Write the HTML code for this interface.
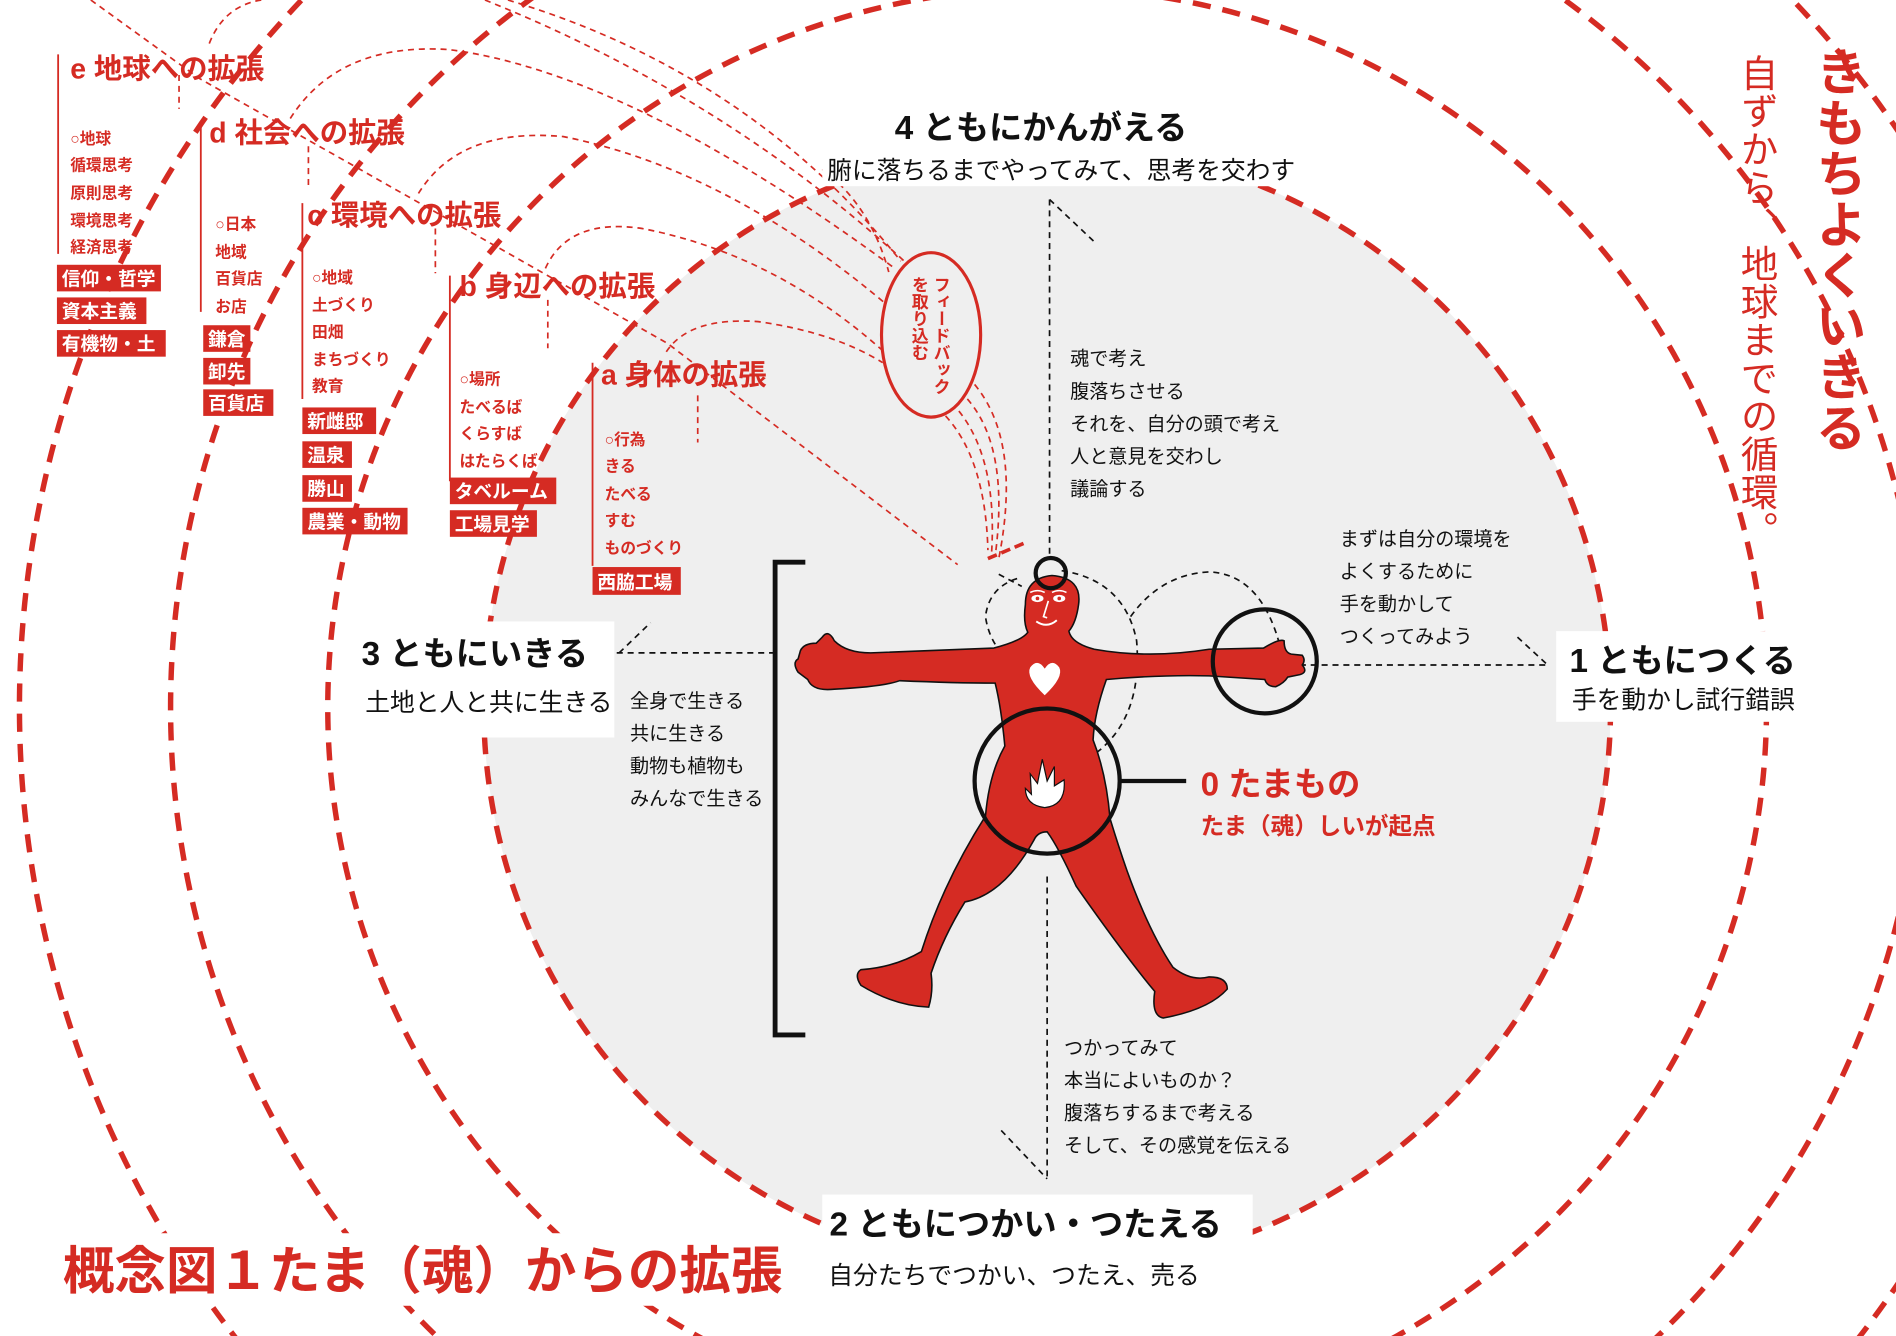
<!DOCTYPE html>
<html><head><meta charset="utf-8">
<style>
html,body{margin:0;padding:0;background:#fff;width:1896px;height:1336px;overflow:hidden;}
body{position:relative;}
svg{position:absolute;left:0;top:0;display:block;overflow:hidden;}
.v{position:absolute;writing-mode:vertical-rl;font-family:"Liberation Sans","Noto Sans CJK JP",sans-serif;color:#d52b23;white-space:nowrap;}
</style></head><body>
<svg width="1896" height="1336" viewBox="0 0 1568 1105" overflow="hidden" font-family="Liberation Sans, Noto Sans CJK JP, sans-serif">
<circle cx="866" cy="585" r="466" fill="#efefef"/>
<g fill="none" stroke="#d52b23" stroke-width="4.5" stroke-dasharray="15 10">
<circle cx="866" cy="585" r="466"/>
<circle cx="866" cy="585" r="595"/>
<circle cx="866" cy="585" r="725"/>
<circle cx="866" cy="585" r="850"/>
</g>
<g fill="none" stroke="#d52b23" stroke-width="1.4" stroke-dasharray="5 4">
<polyline points="75,0 165,65 552,284 792,467"/>
<path d="M173,36 Q185,5 216,0"/>
<path d="M240,98 Q280,35 371,41 Q520,60 740,222"/>
<path d="M346,160 Q380,105 466,113 Q600,140 731,250"/>
<path d="M451,222 Q470,180 531,189 Q640,210 730,290"/>
<path d="M551,291 Q570,262 627,266 Q690,275 730,300"/>
<path d="M401,0 Q600,80 750,218"/>
<path d="M420,0 Q620,60 745,216"/>
<path d="M680,140 Q720,170 735,225"/>
<path d="M782,344 Q815,380 817,455"/>
<path d="M793,340 Q825,380 820,458"/>
<path d="M800,330 Q835,370 823,460"/>
<path d="M806,318 Q845,365 826,462"/>
<path d="M148,62 V90"/><path d="M255,121 V154"/><path d="M360,189 V226"/><path d="M453,248 V288"/><path d="M577,327 V366"/>
</g>
<path d="M817,462 L850,448" stroke="#d52b23" stroke-width="3" stroke-dasharray="8 4" fill="none"/>
<ellipse cx="770" cy="277" rx="41" ry="68" fill="none" stroke="#d52b23" stroke-width="2.6"/>
<g stroke="#d52b23" stroke-width="1.5">
<line x1="48" y1="45" x2="48" y2="210"/>
<line x1="166" y1="100" x2="166" y2="258"/>
<line x1="250" y1="168" x2="250" y2="330"/>
<line x1="372" y1="228" x2="372" y2="398"/>
<line x1="490" y1="300" x2="490" y2="468"/>
</g>
<g fill="#fff">
<rect x="680" y="82" width="400" height="72"/>
<rect x="1287" y="522" width="213" height="75"/>
<rect x="286" y="514" width="222" height="96"/>
<rect x="680" y="988" width="356" height="94"/>
<rect x="45" y="1020" width="610" height="60"/>
</g>
<g fill="none" stroke="#111" stroke-width="1.4" stroke-dasharray="5 4">
<line x1="868" y1="165" x2="868" y2="462"/>
<line x1="868" y1="165" x2="905" y2="200"/>
<line x1="866" y1="725" x2="866" y2="975"/>
<line x1="828" y1="935" x2="866" y2="975"/>
<line x1="510" y1="540" x2="640" y2="540"/>
<line x1="512" y1="540" x2="538" y2="515"/>
<line x1="1075" y1="550" x2="1280" y2="550"/>
<line x1="1255" y1="527" x2="1280" y2="550"/>
<path d="M858,560 Q820,545 815,510 Q818,485 843,478"/>
<path d="M826,475 L845,485"/>
<path d="M878,472 Q930,480 940,530 Q945,590 910,620 Q885,640 877,643"/>
<path d="M935,510 Q960,475 1000,473 Q1045,475 1060,540"/>
<line x1="864" y1="568" x2="864" y2="620"/>
</g>
<path d="M870,476 Q895,478 892,500 Q890,515 884,522 Q886,532 905,537 Q950,545 1000,537 L1045,536 Q1058,528 1062,530 Q1062,540 1068,541 L1077,542 Q1080,546 1077,550 Q1082,556 1075,558 L1065,560 Q1062,565 1055,568 Q1048,568 1046,562 L1000,559 Q960,558 915,562 Q905,590 904,612 Q915,640 918,677 Q925,700 932,720 Q950,770 970,800 Q985,812 1000,808 Q1015,808 1015,818 Q1000,835 962,842 Q952,840 955,820 Q930,790 890,733 Q875,700 866,688 Q858,688 855,695 Q830,740 798,746 Q780,775 770,805 Q772,820 768,833 Q740,832 712,815 Q706,806 712,802 Q740,800 762,787 Q780,730 815,675 Q818,640 831,617 Q828,585 823,565 Q790,565 744,563 Q730,568 690,570 Q672,572 668,562 L660,556 Q655,548 660,545 L662,538 Q665,532 675,532 L680,527 Q685,520 690,530 Q700,540 720,540 L822,536 Q845,530 850,523 Q846,515 848,500 Q848,478 870,476 Z" fill="#d52b23" stroke="#111" stroke-width="1.3"/>
<ellipse cx="858" cy="495" rx="5" ry="3" fill="#fff"/><ellipse cx="876" cy="495" rx="5" ry="3" fill="#fff"/>
<circle cx="858" cy="495" r="1.5" fill="#d52b23"/><circle cx="876" cy="495" r="1.5" fill="#d52b23"/>
<path d="M852,490 Q858,487 864,490 M870,490 Q876,487 882,490" stroke="#fff" stroke-width="1.2" fill="none"/>
<path d="M867,497 L863,510 L866,511" stroke="#fff" stroke-width="1.4" fill="none"/>
<path d="M857,514 Q866,520 874,513" stroke="#fff" stroke-width="1.6" fill="none"/>
<path d="M864,575 Q848,560 852,552 Q858,544 864,553 Q870,544 876,552 Q880,560 864,575 Z" fill="#fff"/>
<path d="M864,668 Q848,666 848,652 L853,657 L852,640 L858,648 L862,628 L866,646 L872,634 L872,650 L880,645 Q882,666 864,668 Z" fill="#fff" stroke="#111" stroke-width="1"/>
<g fill="none" stroke="#111" stroke-width="3.5">
<circle cx="869" cy="474" r="12.5"/>
<circle cx="1046" cy="547" r="43"/>
<circle cx="866" cy="646" r="60"/>
</g>
<line x1="926" y1="646" x2="981" y2="646" stroke="#111" stroke-width="3.5"/>
<path d="M666,465 H641 V856 H666" fill="none" stroke="#111" stroke-width="4"/>
<g font-weight="bold" fill="#111" font-size="27.5">
<text x="740" y="115">4 ともにかんがえる</text>
<text x="1298" y="556">1 ともにつくる</text>
<text x="299" y="550">3 ともにいきる</text>
<text x="686" y="1022">2 ともにつかい・つたえる</text>
</g>
<g fill="#111" font-size="20.5">
<text x="684" y="148">腑に落ちるまでやってみて、思考を交わす</text>
<text x="1300" y="586">手を動かし試行錯誤</text>
<text x="302" y="588">土地と人と共に生きる</text>
<text x="685" y="1062">自分たちでつかい、つたえ、売る</text>
</g>
<g fill="#111" font-size="15.8">
<text x="885" y="302">魂で考え</text><text x="885" y="329">腹落ちさせる</text><text x="885" y="356">それを、自分の頭で考え</text><text x="885" y="383">人と意見を交わし</text><text x="885" y="410">議論する</text>
<text x="1108" y="451">まずは自分の環境を</text><text x="1108" y="478">よくするために</text><text x="1108" y="505">手を動かして</text><text x="1108" y="532">つくってみよう</text>
<text x="521" y="585">全身で生きる</text><text x="521" y="612">共に生きる</text><text x="521" y="639">動物も植物も</text><text x="521" y="666">みんなで生きる</text>
<text x="880" y="872">つかってみて</text><text x="880" y="899">本当によいものか？</text><text x="880" y="926">腹落ちするまで考える</text><text x="880" y="953">そして、その感覚を伝える</text>
</g>
<g fill="#d52b23" font-weight="bold">
<text x="993" y="658" font-size="27.5">0 たまもの</text>
<text x="993" y="690" font-size="19.5">たま（魂）しいが起点</text>
<text x="52" y="1066" font-size="42.6">概念図１たま（魂）からの拡張</text>
<g font-size="23.5">
<text x="58" y="65">e 地球への拡張</text>
<text x="173" y="118">d 社会への拡張</text>
<text x="254" y="186">c 環境への拡張</text>
<text x="380" y="245">b 身辺への拡張</text>
<text x="497" y="318">a 身体の拡張</text>
</g>
<g font-size="13">
<text x="58" y="119">○地球</text><text x="58" y="141">循環思考</text><text x="58" y="164">原則思考</text><text x="58" y="187">環境思考</text><text x="58" y="209">経済思考</text>
<text x="178" y="190">○日本</text><text x="178" y="213">地域</text><text x="178" y="235">百貨店</text><text x="178" y="258">お店</text>
<text x="258" y="234">○地域</text><text x="258" y="257">土づくり</text><text x="258" y="279">田畑</text><text x="258" y="302">まちづくり</text><text x="258" y="324">教育</text>
<text x="380" y="318">○場所</text><text x="380" y="341">たべるば</text><text x="380" y="363">くらすば</text><text x="380" y="386">はたらくば</text>
<text x="500" y="368">○行為</text><text x="500" y="390">きる</text><text x="500" y="413">たべる</text><text x="500" y="435">すむ</text><text x="500" y="458">ものづくり</text>
</g>
</g>
<g fill="#d52b23">
<rect x="47" y="219" width="86" height="22"/><rect x="47" y="246" width="74" height="22"/><rect x="47" y="273" width="90" height="22"/>
<rect x="168" y="269" width="39" height="22"/><rect x="168" y="296" width="39" height="22"/><rect x="168" y="322" width="58" height="22"/>
<rect x="250" y="337" width="61" height="22"/><rect x="250" y="365" width="41" height="22"/><rect x="250" y="393" width="41" height="22"/><rect x="250" y="420" width="87" height="22"/>
<rect x="372" y="395" width="88" height="22"/><rect x="372" y="422" width="72" height="22"/>
<rect x="490" y="469" width="73" height="23"/>
</g>
<g fill="#fff" font-weight="bold" font-size="15.5">
<text x="51" y="236">信仰・哲学</text><text x="51" y="263">資本主義</text><text x="51" y="290">有機物・土</text>
<text x="172" y="286">鎌倉</text><text x="172" y="313">卸先</text><text x="172" y="339">百貨店</text>
<text x="254" y="354">新雌邸</text><text x="254" y="382">温泉</text><text x="254" y="410">勝山</text><text x="254" y="437">農業・動物</text>
<text x="376" y="412">タベルーム</text><text x="376" y="439">工場見学</text>
<text x="494" y="487">西脇工場</text>
</g>
</svg>
<div class="v" style="left:907px;top:276px;font-size:17px;line-height:21.8px;font-weight:bold;">フィードバック<br>を取り込む</div>
<div class="v" style="left:1810px;top:46px;font-size:50.8px;line-height:53px;font-weight:bold;">きもちよくいきる</div>
<div class="v" style="left:1735px;top:54px;font-size:37.5px;line-height:41px;letter-spacing:0.6px;">自ずから、地球までの循環。</div>
</body></html>
